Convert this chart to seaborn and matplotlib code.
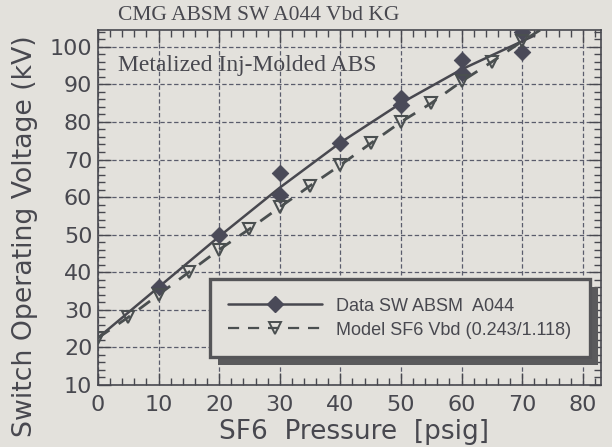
import numpy as np
import pandas as pd
import matplotlib
matplotlib.use("Agg")
import matplotlib.pyplot as plt
import seaborn as sns
from matplotlib.lines import Line2D
from matplotlib.patches import Rectangle
from matplotlib.ticker import MultipleLocator

# measured switch breakdown points (two shots at some pressures)
data_x = [10, 20, 30, 30, 40, 50, 50, 60, 60, 70, 70]
data_y = [36, 50, 66.3, 60.5, 74.5, 86.5, 84.5, 96.5, 93, 104, 98.5]

# smooth curve drawn through the data
fit_x = [0, 10, 20, 30, 40, 50, 60, 70, 72]
fit_y = [22.5, 36, 49.5, 62.5, 74.5, 85, 94, 101.5, 103]

# SF6 Vbd model
model_x = [0, 5, 10, 15, 20, 25, 30, 35, 40, 45, 50, 55, 60, 65, 70, 75]
model_y = [22.5, 28, 34, 40, 46, 51.5, 57.3, 63, 68.5, 74.3, 80, 85, 90.8, 96, 101.5, 106.5]

x_ticks = [0, 10, 20, 30, 40, 50, 60, 70, 80]
y_ticks = [10, 20, 30, 40, 50, 60, 70, 80, 90, 100]

bg = "#e3e1dc"
ink = "#48484f"

sns.set_style("ticks")
plt.rcParams["font.family"] = ["DejaVu Sans"]

fig = plt.figure(figsize=(6.12, 4.47), dpi=100, facecolor=bg)
ax = fig.add_axes([0.160, 0.139, 0.822, 0.794])
ax.set_facecolor(bg)

# lines + markers
sns.lineplot(x=fit_x, y=fit_y, ax=ax, color=ink, linewidth=1.8, zorder=3)
sns.scatterplot(x=data_x, y=data_y, ax=ax, marker="D", s=70, color="#4a4a58",
                edgecolor="#4a4a58", zorder=4)
model_df = pd.DataFrame({"x": model_x, "y": model_y})
sns.lineplot(data=model_df, x="x", y="y", ax=ax, color="#4a4f50", linewidth=2.0,
             zorder=3)
ax.lines[-1].set_dashes([5, 4])
ax.plot(model_x, model_y, linestyle="none", marker="v", markersize=9,
        markerfacecolor="none", markeredgecolor="#4a4f50", markeredgewidth=1.5,
        zorder=4)

ax.set_xlim(0, 83)
ax.set_ylim(10, 104.5)
ax.set_xticks(x_ticks)
ax.set_yticks(y_ticks)
ax.xaxis.set_minor_locator(MultipleLocator(2))
ax.yaxis.set_minor_locator(MultipleLocator(2))
ax.tick_params(which="both", direction="in", top=True, right=True,
               color=ink, labelcolor=ink)
ax.tick_params(which="major", length=9, width=1.0, labelsize=16)
ax.tick_params(which="minor", length=5, width=1.0)
ax.tick_params(axis="x", pad=7)
ax.tick_params(axis="y", pad=4)
ax.grid(True, which="major", color="#5a5c6c", linewidth=0.9,
        linestyle=(0, (3.5, 2)))
for s in ax.spines.values():
    s.set_color(ink)
    s.set_linewidth(1.2)

ax.set_xlabel("SF6  Pressure  [psig]", fontsize=19, color=ink)
ax.xaxis.set_label_coords(0.51, -0.095)
ax.set_ylabel("Switch Operating Voltage (kV)", fontsize=19.3, color=ink)
ax.yaxis.set_label_coords(-0.12, 0.42)

fig.text(0.193, 0.966, "CMG ABSM SW A044 Vbd KG", family="Liberation Serif",
         fontsize=15.5, color=ink, va="center", ha="left")
ax.text(0.04, 0.90, "Metalized Inj-Molded ABS", transform=ax.transAxes,
        family="Liberation Serif", fontsize=17, color=ink, va="center", ha="left")

handles = [
    Line2D([], [], color=ink, linewidth=1.8, marker="D", markersize=8,
           markerfacecolor="#4a4a58", markeredgecolor="#4a4a58"),
    Line2D([], [], color="#4a4f50", linewidth=1.6, dashes=[5, 4], marker="v",
           markersize=9, markerfacecolor="none", markeredgecolor="#4a4f50",
           markeredgewidth=1.4),
]
leg = ax.legend(handles, ["Data SW ABSM  A044", "Model SF6 Vbd (0.243/1.118)"],
                loc="lower left", bbox_to_anchor=(0.223, 0.079, 0.755, 0.22),
                mode="expand", borderaxespad=0, fancybox=False, framealpha=1,
                facecolor=bg, edgecolor="#555558", handlelength=5.2,
                handletextpad=0.8, borderpad=1.0, labelspacing=0.4,
                prop={"family": "Liberation Sans", "size": 13},
                labelcolor=ink, numpoints=1)
leg.get_frame().set_linewidth(2.4)
leg.set_zorder(6)

# drop shadow behind the legend box
fig.canvas.draw()
bb = leg.get_window_extent().transformed(ax.transAxes.inverted())
ax.add_patch(Rectangle((bb.x0 + 0.016, bb.y0 - 0.0225), bb.width, bb.height,
                       transform=ax.transAxes, facecolor="#5a5a5c",
                       edgecolor="none", zorder=5.5, clip_on=False))

fig.savefig("out.png", dpi=100, facecolor=bg)
